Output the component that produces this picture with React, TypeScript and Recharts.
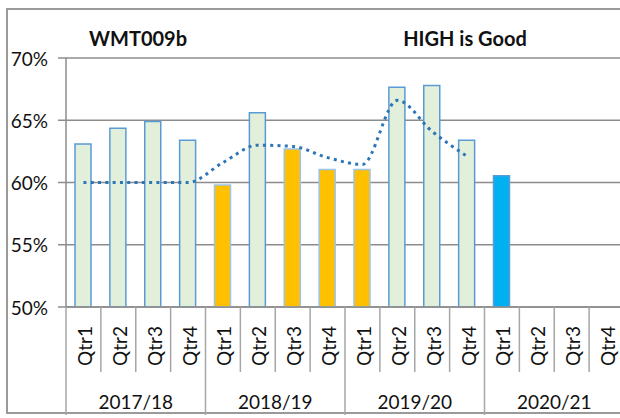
import React from 'react';
import { ComposedChart, Bar, Line, XAxis, YAxis, CartesianGrid, Cell } from 'recharts';

const years = ['2017/18', '2018/19', '2019/20', '2020/21'];
const quarters = ['Qtr1', 'Qtr2', 'Qtr3', 'Qtr4'];
const actual: (number | null)[] = [
  63.1, 64.35, 64.9, 63.4,
  59.8, 65.6, 62.7, 61.05,
  61.05, 67.65, 67.8, 63.4,
  60.55, null, null, null,
];
const trend: (number | null)[] = [
  60.0, 60.0, 60.0, 60.0,
  61.6, 63.0, 62.9, 62.0,
  61.45, 66.6, 64.1, 62.1,
  null, null, null, null,
];
const status: string[] = [
  'ok', 'ok', 'ok', 'ok',
  'amber', 'ok', 'amber', 'amber',
  'amber', 'ok', 'ok', 'ok',
  'latest', 'none', 'none', 'none',
];
const yTicks = [50, 55, 60, 65, 70];
const titleLeft = 'WMT009b';
const titleRight = 'HIGH is Good';

const data = years.flatMap((yr, yi) =>
  quarters.map((q, qi) => {
    const i = yi * 4 + qi;
    return { key: `${yr}-${q}`, quarter: q, year: yr, actual: actual[i], trend: trend[i], status: status[i] };
  })
);

const FILL: Record<string, string> = { ok: '#E2EFDA', amber: '#FFC000', latest: '#00B0F0', none: 'none' };
const STROKE: Record<string, string> = { ok: '#5B9BD5', amber: '#9DC3E6', latest: '#5B9BD5', none: 'none' };

const CHART_W = 630;
const CHART_H = 418;
const M_TOP = 58;
const M_RIGHT = 6;
const M_BOTTOM = 3;
const Y_W = 66;
const X_H = 108;
const PLOT_W = CHART_W - Y_W - M_RIGHT;
const BAND = PLOT_W / data.length;
const FONT = 'Lato, "Open Sans", sans-serif';
const GRID = '#8c8c8c';
const SEP = '#a6a6a6';

const XTick = (props: any) => {
  const { x, y, payload, index } = props;
  const i = typeof index === 'number' ? index : payload.index;
  const d = data[i];
  const left = x - BAND / 2;
  const qCy = y + 39;
  const full = i % 4 === 0;
  return (
    <g>
      <line x1={left} y1={y} x2={left} y2={full ? y + X_H : y + 65} stroke={SEP} strokeWidth={1.5} />
      {i === data.length - 1 && (
        <line x1={x + BAND / 2} y1={y} x2={x + BAND / 2} y2={y + X_H} stroke={SEP} strokeWidth={1.5} />
      )}
      <text
        x={x + 1}
        y={qCy}
        transform={`rotate(-90, ${x + 1}, ${qCy})`}
        textAnchor="middle"
        dominantBaseline="central"
        fontFamily={FONT}
        fontSize={19}
        fill="#111"
      >
        {d ? d.quarter : payload.value}
      </text>
      {i % 4 === 1 && d && (
        <text
          x={x + BAND / 2}
          y={y + 94}
          textAnchor="middle"
          dominantBaseline="central"
          fontFamily={FONT}
          fontSize={19}
          fill="#111"
        >
          {d.year}
        </text>
      )}
    </g>
  );
};

const YTick = (props: any) => {
  const { x, y, payload } = props;
  return (
    <text x={x} y={y} textAnchor="end" dominantBaseline="central" fontFamily={FONT} fontSize={19} fill="#111">
      {`${payload.value}%`}
    </text>
  );
};

export default function App() {
  return (
    <div style={{ position: 'absolute', left: 0, top: 0, width: 620, height: 418, overflow: 'hidden', background: '#fff' }}>
      <div
        style={{
          position: 'absolute',
          left: 6,
          top: 8,
          width: 640,
          height: 406,
          border: '2px solid #9a9a9a',
          boxSizing: 'border-box',
        }}
      />
      <div style={{ position: 'absolute', left: 0, top: 0 }}>
        <ComposedChart
          width={CHART_W}
          height={CHART_H}
          data={data}
          margin={{ top: M_TOP, right: M_RIGHT, bottom: M_BOTTOM, left: 0 }}
          barSize={16}
        >
          <CartesianGrid horizontal vertical={false} stroke={GRID} strokeWidth={1.5} />
          <YAxis
            type="number"
            domain={[50, 70]}
            ticks={yTicks}
            width={Y_W}
            tickSize={8}
            tickMargin={10}
            tick={<YTick />}
            axisLine={{ stroke: GRID, strokeWidth: 1.5 }}
            tickLine={{ stroke: GRID, strokeWidth: 1.5 }}
            allowDataOverflow
          />
          <XAxis
            dataKey="key"
            type="category"
            height={X_H}
            interval={0}
            tickSize={0}
            tickMargin={0}
            tickLine={false}
            axisLine={{ stroke: GRID, strokeWidth: 1.5 }}
            tick={<XTick />}
          />
          <Bar dataKey="actual" isAnimationActive={false} strokeWidth={1.5}>
            {data.map((d, i) => (
              <Cell key={i} fill={FILL[d.status]} stroke={STROKE[d.status]} />
            ))}
          </Bar>
          <Line
            dataKey="trend"
            type="monotone"
            stroke="#2E75B6"
            strokeWidth={3}
            strokeDasharray="3 4.3"
            dot={false}
            activeDot={false}
            isAnimationActive={false}
          />
        </ComposedChart>
      </div>
      <div
        style={{
          position: 'absolute',
          left: 138,
          top: 38,
          transform: 'translate(-50%, -50%)',
          fontFamily: FONT,
          fontWeight: 700,
          fontSize: 20,
          color: '#111',
          whiteSpace: 'nowrap',
        }}
      >
        {titleLeft}
      </div>
      <div
        style={{
          position: 'absolute',
          left: 465,
          top: 38,
          transform: 'translate(-50%, -50%)',
          fontFamily: FONT,
          fontWeight: 700,
          fontSize: 20,
          color: '#111',
          whiteSpace: 'nowrap',
        }}
      >
        {titleRight}
      </div>
    </div>
  );
}
